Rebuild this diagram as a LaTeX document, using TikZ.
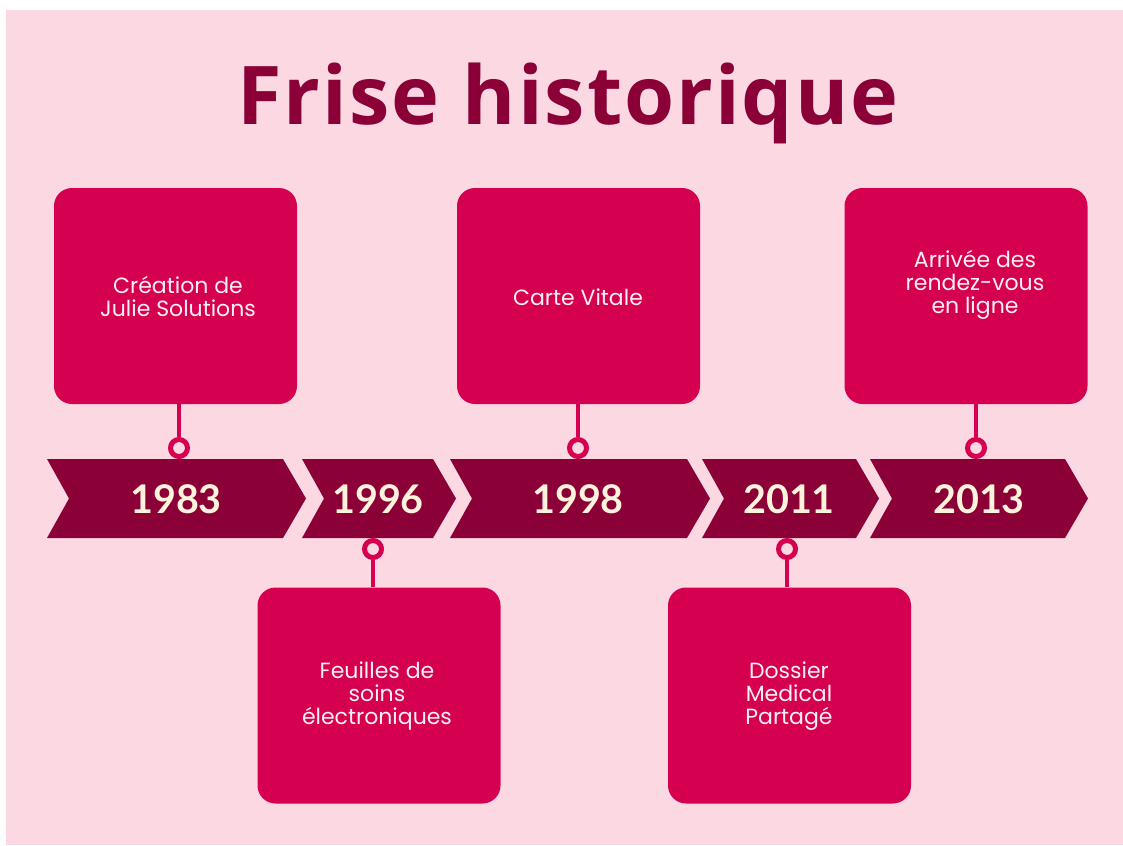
\documentclass[tikz,border=0pt]{standalone}
\usepackage{fontspec}
\setmainfont{Poppins}
\newfontfamily\titlefont[LetterSpace=2.5]{Open Sans}
\newfontfamily\yearfont{Lato}
\usetikzlibrary{calc}
\definecolor{background-white}{RGB}{255, 255, 255}
\definecolor{background-pink}{RGB}{252, 216, 227}
\definecolor{frise-wine}{RGB}{139, 0, 54}
\definecolor{frise-rose}{RGB}{214, 0, 80}
\definecolor{frise-cream}{RGB}{255, 243, 220}
\definecolor{frise-text}{RGB}{255, 240, 240}

\tikzset{
  event/.style={fill=frise-rose, rounded corners=18pt, minimum width=243pt, minimum height=216pt, inner sep=0pt},
  eventtext/.style={text=frise-text, align=center, font=\fontsize{22}{23}\selectfont},
  year/.style={text=frise-cream, anchor=base, font=\yearfont\bfseries\fontsize{39.5}{40}\selectfont},
  pin/.style={circle, draw=frise-rose, line width=5pt, fill=background-pink, minimum size=17pt, inner sep=0pt},
  stem/.style={draw=frise-rose, line width=4pt},
}
% arrow of the frieze: left edge, right edge
\newcommand{\frisechevron}[2]{%
  \fill[frise-wine] (#1,459) -- (#2,459) -- ({#2+23},498.5) -- (#2,538) -- (#1,538) -- ({#1+22},498.5) -- cycle;}

\begin{document}
\begin{tikzpicture}[x=1pt,y=-1pt]
   \fill[use as bounding box,background-white] (0,0) rectangle (1123,845);
   \fill[background-pink] (6,10) rectangle (1123,845);

   \node[anchor=base, text=frise-wine, font=\titlefont\bfseries\fontsize{81}{81}\selectfont] (title) at (568,125) {Frise historique};

   % the frieze
   \frisechevron{47}{283}
   \frisechevron{302}{433}
   \frisechevron{450}{687}
   \frisechevron{702}{856}
   \frisechevron{870}{1065}
   \node[year] (y1983) at (176,513) {1983};
   \node[year] (y1996) at (378,513) {1996};
   \node[year] (y1998) at (578,513) {1998};
   \node[year] (y2011) at (789,513) {2011};
   \node[year] (y2013) at (979,513) {2013};

   % events above
   \node[event] (b1) at (175.5,296) {};
   \node[event] (b3) at (578.5,296) {};
   \node[event] (b5) at (966,296) {};
   % events below
   \node[event] (b2) at (379,695.5) {};
   \node[event] (b4) at (789.5,695.5) {};

   \node[eventtext] (t1) at (178,296) {Création de\\Julie Solutions};
   \node[eventtext] (t3) at (578,297) {Carte Vitale};
   \node[eventtext] (t5) at (975,285) {Arrivée des\\rendez-vous\\en ligne};
   \node[eventtext] (t2) at (377,696) {Feuilles de\\soins\\électroniques};
   \node[eventtext] (t4) at (789,696) {Dossier\\Medical\\Partagé};

   % pins
   \node[pin] (p1) at (179,448) {};
   \node[pin] (p3) at (578,448) {};
   \node[pin] (p5) at (976,448) {};
   \node[pin] (p2) at (373,549) {};
   \node[pin] (p4) at (787,549) {};
   \draw[stem] (b1.south -| p1) -- (p1.north);
   \draw[stem] (b3.south -| p3) -- (p3.north);
   \draw[stem] (b5.south -| p5) -- (p5.north);
   \draw[stem] (p2.south) -- (b2.north -| p2);
   \draw[stem] (p4.south) -- (b4.north -| p4);
\end{tikzpicture}
\end{document}
